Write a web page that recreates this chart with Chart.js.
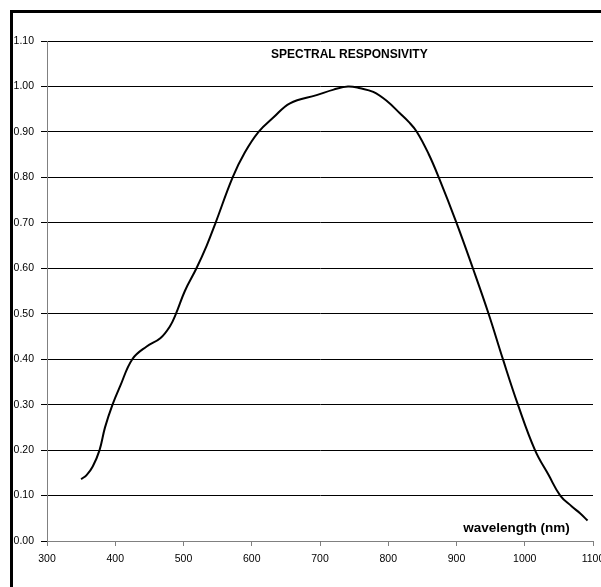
<html>
<head>
    <meta charset="utf-8">
    <script src="https://cdn.jsdelivr.net/npm/chart.js@4/dist/chart.umd.min.js"></script>
    <title>Spectral Responsivity</title>
    <style>
        body { margin: 0; background: #fff; overflow: hidden; }
        #frame { position: absolute; left: 10px; top: 10px; width: 700px; height: 700px;
                 border-top: 3px solid #000; border-left: 3px solid #000; pointer-events: none; }
        #chart { position: absolute; left: 0; top: 0; }
    </style>
</head>
<body>
    <canvas id="chart" width="601" height="587"></canvas>
    <div id="frame"></div>
    <script>
        // wavelength (nm) and relative responsivity
        const wavelengths = [350, 358, 367, 377, 385, 396, 407, 425, 446, 466, 480, 489, 502, 519, 534, 547,
                             572, 590, 610, 632, 656, 695, 720, 741, 759, 778, 798, 817, 830, 842, 859, 874, 900, 924, 947, 968,
                             990, 1015, 1035, 1052, 1069, 1081, 1092];
        const responsivity = [0.136, 0.145, 0.164, 0.20, 0.25, 0.30, 0.34, 0.40, 0.428, 0.446, 0.472, 0.50, 0.55, 0.60, 0.65, 0.70,
                              0.80, 0.855, 0.90, 0.932, 0.963, 0.981, 0.993, 1.00, 0.996, 0.988, 0.968, 0.941, 0.922, 0.90, 0.852, 0.80, 0.70, 0.60, 0.50, 0.40,
                              0.30, 0.20, 0.145, 0.10, 0.076, 0.061, 0.045];

        const points = [];
        for (let i = 0; i < wavelengths.length; i++) {
            points.push({ x: wavelengths[i], y: responsivity[i] });
        }

        const tickFont = { family: 'Arial, "Liberation Sans", sans-serif', size: 10.5 };

        // text drawn inside the plot, placed in data units
        const labelsPlugin = {
            id: 'innerLabels',
            afterDraw(chart) {
                const ctx = chart.ctx;
                const xs = chart.scales.x, ys = chart.scales.y;
                ctx.save();
                ctx.fillStyle = '#000';
                ctx.textBaseline = 'middle';
                ctx.font = 'bold 12px Arial, "Liberation Sans", sans-serif';
                ctx.textAlign = 'center';
                ctx.fillText('SPECTRAL RESPONSIVITY', xs.getPixelForValue(743), ys.getPixelForValue(1.069));
                ctx.font = 'bold 13.5px Arial, "Liberation Sans", sans-serif';
                ctx.textAlign = 'right';
                ctx.fillText('wavelength (nm)', xs.getPixelForValue(1066), ys.getPixelForValue(0.028));
                ctx.restore();
            }
        };

        new Chart(document.getElementById('chart'), {
            type: 'line',
            data: {
                datasets: [{
                    data: points,
                    borderColor: '#000',
                    borderWidth: 2,
                    pointRadius: 0,
                    fill: false,
                    tension: 0.4
                }]
            },
            options: {
                responsive: false,
                animation: false,
                layout: { padding: { left: 0, top: 41, right: 8, bottom: 0 } },
                plugins: { legend: { display: false }, tooltip: { enabled: false } },
                scales: {
                    x: {
                        type: 'linear',
                        min: 300,
                        max: 1100,
                        afterFit(scale) { scale.height = 46; scale.paddingLeft = 0; scale.paddingRight = 0; },
                        ticks: {
                            stepSize: 100,
                            color: '#000',
                            font: tickFont,
                            padding: 7,
                            maxRotation: 0,
                            callback: v => String(v)
                        },
                        grid: { drawOnChartArea: false, tickLength: 5, tickColor: '#808080', color: '#808080' },
                        border: { color: '#808080', width: 1 }
                    },
                    y: {
                        min: 0,
                        max: 1.1,
                        afterFit(scale) { scale.width = 47; },
                        ticks: {
                            stepSize: 0.1,
                            color: '#000',
                            font: tickFont,
                            padding: 7,
                            callback: v => v.toFixed(2)
                        },
                        grid: { color: '#000', tickColor: '#000', tickLength: 6, lineWidth: 1 },
                        border: { color: '#808080', width: 1 }
                    }
                }
            },
            plugins: [labelsPlugin]
        });
    </script>
</body>
</html>
